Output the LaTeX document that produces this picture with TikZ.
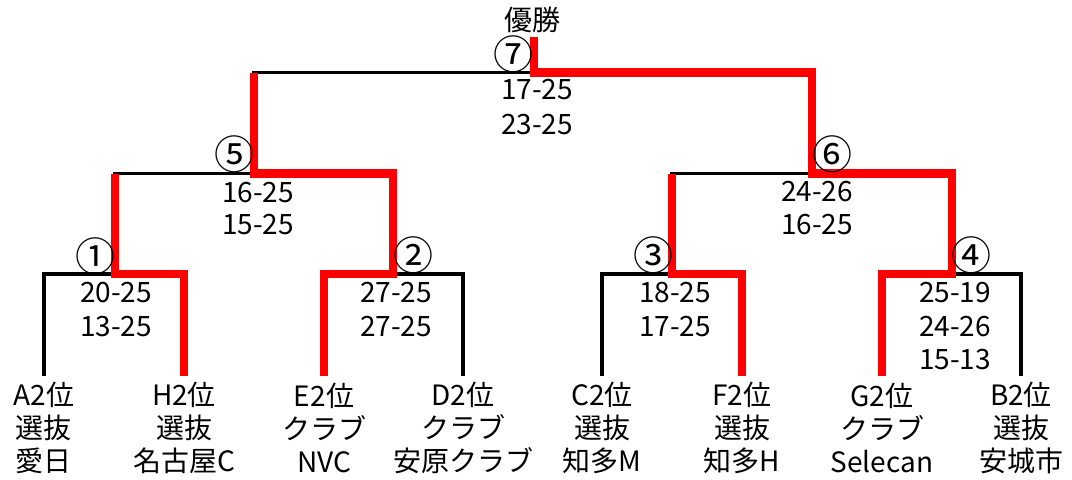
\documentclass[tikz,border=0pt]{standalone}
\usepackage{fontspec}
\setmainfont{Noto Sans CJK JP}
\begin{document}
\begin{tikzpicture}[x=0.75pt,y=-0.75pt,
    bk/.style={line width=2.4pt},
    rd/.style={red,line width=6.4pt,line join=miter},
    txt/.style={inner sep=0pt,font=\fontsize{21}{24.75}\selectfont},
    num/.style={inner sep=0pt,font=\fontsize{30}{30}\selectfont},
    team/.style={txt,align=center}]
    \useasboundingbox (0,0) rectangle (1072,479);
    % team ends
    \coordinate (A) at (44,376);
    \coordinate (H) at (184,376);
    \coordinate (E) at (324,376);
    \coordinate (D) at (463,376);
    \coordinate (C) at (602,376);
    \coordinate (F) at (742,376);
    \coordinate (G) at (882,376);
    \coordinate (B) at (1021,376);
    % match points
    \coordinate (m1) at (115,274);
    \coordinate (m2) at (393,274);
    \coordinate (m3) at (672,274);
    \coordinate (m4) at (952,274);
    \coordinate (m5) at (254,173.5);
    \coordinate (m6) at (812,173.5);
    \coordinate (m7) at (534,72.5);
    \coordinate (win) at (534,36.5);
    % bracket
    \draw[bk] (A) |- (m1) -| (H);
    \draw[bk] (E) |- (m2) -| (D);
    \draw[bk] (C) |- (m3) -| (F);
    \draw[bk] (G) |- (m4) -| (B);
    \draw[bk] (m1) |- (m5) -| (m2);
    \draw[bk] (m3) |- (m6) -| (m4);
    \draw[bk] (m5) |- (m7) -| (m6);
    % winners
    \draw[rd] (H) |- (m1) -- (m1 |- m5);
    \draw[rd] (E) |- (m2) |- (m5) -- (m5 |- m7);
    \draw[rd] (F) |- (m3) -- (m3 |- m6);
    \draw[rd] (G) |- (m4) |- (m6) |- (m7) -- (win);
    \node[txt] (top) at (532,20) {優勝};
    % match numbers
    \node[num] (n1) at (95,256) {①};
    \node[num] (n2) at (413,255) {②};
    \node[num] (n3) at (653,255) {③};
    \node[num] (n4) at (971,255) {④};
    \node[num] (n5) at (234,154) {⑤};
    \node[num] (n6) at (832,154) {⑥};
    \node[num] (n7) at (513,54) {⑦};
    % scores
    \node[txt] (s1a) at (116,293) {20-25};
    \node[txt] (s1b) at (116,327) {13-25};
    \node[txt] (s2a) at (396,293) {27-25};
    \node[txt] (s2b) at (396,327) {27-25};
    \node[txt] (s3a) at (675,293) {18-25};
    \node[txt] (s3b) at (675,327) {17-25};
    \node[txt] (s4a) at (955,293) {25-19};
    \node[txt] (s4b) at (955,327) {24-26};
    \node[txt] (s4c) at (955,360) {15-13};
    \node[txt] (s5a) at (258,193) {16-25};
    \node[txt] (s5b) at (258,225) {15-25};
    \node[txt] (s6a) at (817,192) {24-26};
    \node[txt] (s6b) at (817,225) {16-25};
    \node[txt] (s7a) at (537,90) {17-25};
    \node[txt] (s7b) at (537,125) {23-25};
    % teams
    \node[team] (tA) at (44,428) {A2位\\選抜\\愛日};
    \node[team] (tH) at (184,428) {H2位\\選抜\\名古屋C};
    \node[team] (tE) at (324,428) {E2位\\クラブ\\NVC};
    \node[team] (tD) at (463,428) {D2位\\クラブ\\安原クラブ};
    \node[team] (tC) at (602,428) {C2位\\選抜\\知多M};
    \node[team] (tF) at (742,428) {F2位\\選抜\\知多H};
    \node[team] (tG) at (882,428) {G2位\\クラブ\\Selecan};
    \node[team] (tB) at (1021,428) {B2位\\選抜\\安城市};
\end{tikzpicture}
\end{document}
